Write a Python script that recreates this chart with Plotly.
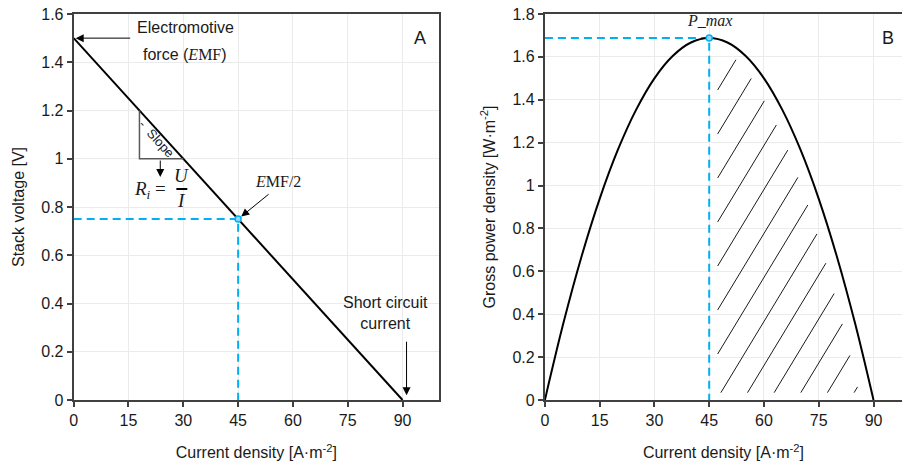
import numpy as np
import plotly.graph_objects as go

# ---------------- data ----------------
current_line = [0, 90]            # A/m2
voltage_line = [1.5, 0.0]         # V
current_mid = 45
voltage_mid = 0.75

current_pow = [0, 5, 10, 15, 20, 25, 30, 35, 40, 45, 50, 55, 60, 65, 70, 75, 80, 85, 90]
power_vals = [0.0, 0.354, 0.667, 0.938, 1.167, 1.354, 1.500, 1.604, 1.667, 1.688,
              1.667, 1.604, 1.500, 1.354, 1.167, 0.938, 0.667, 0.354, 0.0]
p_max = 1.688

x_ticks = [0, 15, 30, 45, 60, 75, 90]

FONT = "Liberation Sans, Arial, sans-serif"
SERIF = "Liberation Serif, DejaVu Serif, serif"
BLUE = "#00B0F0"
AXC = "#404040"
TXT = "#1a1a1a"

fig = go.Figure()

# ---------------- panel A ----------------
fig.add_trace(go.Scatter(x=[0, current_mid, current_mid], y=[voltage_mid, voltage_mid, 0],
                         mode="lines", line=dict(color=BLUE, width=2, dash="8px,5px"),
                         xaxis="x", yaxis="y", showlegend=False, hoverinfo="skip"))
fig.add_trace(go.Scatter(x=current_line, y=voltage_line, mode="lines",
                         line=dict(color="black", width=2), xaxis="x", yaxis="y", showlegend=False))
fig.add_trace(go.Scatter(x=[current_mid], y=[voltage_mid], mode="markers",
                         marker=dict(size=6, color="#8fd8f7", line=dict(color=BLUE, width=1.5)),
                         xaxis="x", yaxis="y", showlegend=False))

# ---------------- panel B ----------------
fig.add_trace(go.Scatter(x=[0, current_mid, current_mid], y=[p_max, p_max, 0],
                         mode="lines", line=dict(color=BLUE, width=2, dash="8px,5px"),
                         xaxis="x2", yaxis="y2", showlegend=False, hoverinfo="skip"))

# hatch lines inside the region right of the maximum
m = 0.02813          # slope of hatch lines in data units
x0_base, spacing = 46.98, 7.295
xl, yb, gap = 47.3, 0.034, 3.5
xs = np.linspace(45, 90, 3000)
fx = np.interp(xs + gap, current_pow, power_vals, right=0.0)
hx, hy = [], []
for k in range(-7, 6):
    x0 = x0_base + spacing * k
    yy = m * (xs - x0)
    ok = (xs >= xl) & (yy >= yb) & (yy <= fx)
    if ok.sum() < 2:
        continue
    idx = np.where(ok)[0]
    hx += [xs[idx[0]], xs[idx[-1]], None]
    hy += [yy[idx[0]], yy[idx[-1]], None]
fig.add_trace(go.Scatter(x=hx, y=hy, mode="lines", line=dict(color="black", width=0.9),
                         xaxis="x2", yaxis="y2", showlegend=False, hoverinfo="skip"))

fig.add_trace(go.Scatter(x=current_pow, y=power_vals, mode="lines",
                         line=dict(color="black", width=2, shape="spline", smoothing=1.0),
                         xaxis="x2", yaxis="y2", showlegend=False))
fig.add_trace(go.Scatter(x=[current_mid], y=[p_max], mode="markers",
                         marker=dict(size=6, color="#8fd8f7", line=dict(color=BLUE, width=1.5)),
                         xaxis="x2", yaxis="y2", showlegend=False))

# ---------------- slope triangle & fraction bar ----------------
fig.add_shape(type="path", path="M 18,1.2 L 18,1.0 L 30,1.0", xref="x", yref="y",
              line=dict(color="#595959", width=1.5))
fig.add_shape(type="line", x0=28.1, x1=31.1, y0=0.875, y1=0.875, xref="x", yref="y",
              line=dict(color="black", width=2))

# ---------------- annotations ----------------
ann = []
def txt(x, y, t, xr="x", yr="y", size=16, font=FONT, angle=0, color=TXT):
    ann.append(dict(x=x, y=y, xref=xr, yref=yr, text=t, showarrow=False, textangle=angle,
                    font=dict(family=font, size=size, color=color)))

def arrow(x, y, ax, ay, xr="x", yr="y", standoff=1):
    ann.append(dict(x=x, y=y, xref=xr, yref=yr, text="", showarrow=True, ax=ax, ay=ay,
                    arrowhead=2, arrowsize=1.6, arrowwidth=1, arrowcolor="black",
                    standoff=standoff))

txt(30.5, 1.542, "Electromotive")
txt(30.5, 1.434, "force (<span style='font-family:Liberation Serif'><i>E</i>MF</span>)")
arrow(0, 1.5, 58, 0, standoff=2)

txt(22.6, 1.082, "-  Slope", size=13, angle=48)
arrow(23.7, 0.924, 0, -18, standoff=0)
txt(20.8, 0.872, "<i>R<sub>i</sub></i> =", size=19, font=SERIF)
txt(29.5, 0.93, "<i>U</i>", size=19, font=SERIF)
txt(29.5, 0.825, "<i>I</i>", size=19, font=SERIF)

txt(55.8, 0.904, "<i>E</i>MF/2", size=16, font=SERIF)
arrow(current_mid, voltage_mid, 32, -26, standoff=4)

txt(85.4, 0.361, "Short circuit<br>current")
arrow(91.1, 0.02, 0, -55, standoff=0)

txt(94.9, 1.5, "A", size=18)
txt(94.0, 1.688, "B", xr="x2", yr="y2", size=18)
txt(45.1, 1.772, "<i>P_max</i>", xr="x2", yr="y2", size=16, font=SERIF)

common_x = dict(tickvals=x_ticks, showgrid=True, gridcolor="#ebebeb", gridwidth=1,
                showline=True, linecolor=AXC, linewidth=2, ticks="outside", ticklen=5,
                tickcolor=AXC, tickwidth=1.5, zeroline=False,
                tickfont=dict(family=FONT, size=16, color=TXT))
common_y = dict(dtick=0.2, tick0=0, showgrid=True, gridcolor="#ebebeb", gridwidth=1,
                showline=True, linecolor=AXC, linewidth=2, ticks="outside", ticklen=5,
                tickcolor=AXC, tickwidth=1.5, zeroline=False,
                tickfont=dict(family=FONT, size=16, color=TXT))

xtitle = dict(text="Current density [A·m<sup>-2</sup>]", font=dict(family=FONT, size=16, color=TXT),
              standoff=19)

fig.update_layout(
    width=902, height=465,
    margin=dict(l=0, r=0, t=14, b=65),
    paper_bgcolor="white", plot_bgcolor="white",
    showlegend=False,
    xaxis=dict(domain=[70 / 902, 437 / 902], range=[0, 100], anchor="y", mirror=True,
               title=xtitle, **common_x),
    yaxis=dict(domain=[0, 1], range=[0, 1.6], anchor="x", mirror=True,
               title=dict(text="Stack voltage [V]", font=dict(family=FONT, size=16, color=TXT),
                          standoff=13), **common_y),
    xaxis2=dict(domain=[543.3 / 902, 1.0], range=[0, 97.8], anchor="y2", mirror=True,
                title=xtitle, **common_x),
    yaxis2=dict(domain=[0, 1], range=[0, 1.8], anchor="x2",
                title=dict(text="Gross power density [W·m<sup>-2</sup>]",
                           font=dict(family=FONT, size=16, color=TXT), standoff=13),
                **common_y),
    annotations=ann,
)

fig.write_html("out.html")
